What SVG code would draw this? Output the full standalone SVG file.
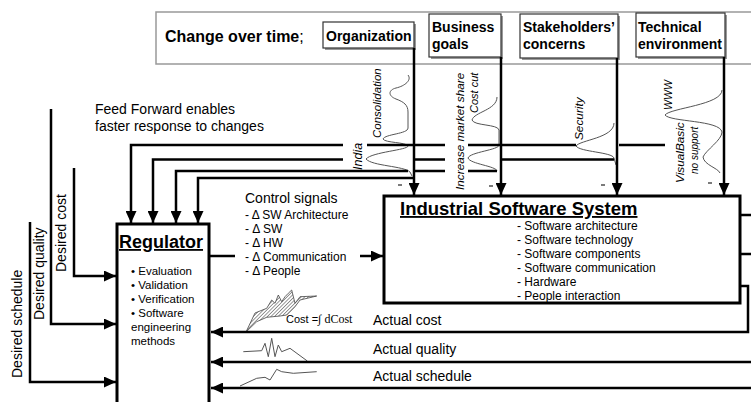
<svg xmlns="http://www.w3.org/2000/svg" width="751" height="402" viewBox="0 0 751 402">
<defs>
<style>
.t{font-family:"Liberation Sans",Arial,sans-serif;fill:#000}
.b{font-weight:bold}
.ln{stroke:#000;stroke-width:2.5;fill:none}
.box{fill:#fff;stroke:#000;stroke-width:3}
.fb{fill:#fff;stroke:#333;stroke-width:1.2}
.sh{fill:#999}
.cv{fill:none;stroke:#555;stroke-width:1;stroke-linejoin:round}
.it{font-style:italic;font-size:11.5px}
.tk{stroke:#333;stroke-width:1.3}
.sf{font-family:"Liberation Serif","Times New Roman",serif}
</style>
<marker id="ah" markerUnits="userSpaceOnUse" markerWidth="12" markerHeight="11" viewBox="0 0 12 11" refX="12" refY="5.5" orient="auto">
<path d="M0,0 L12,5.5 L0,11 Z" fill="#000"/>
</marker>
<pattern id="hatch" patternUnits="userSpaceOnUse" width="2.5" height="2.5" patternTransform="rotate(45)">
<line x1="0" y1="0" x2="0" y2="2.5" stroke="#333" stroke-width="1"/>
</pattern>
</defs>
<rect width="751" height="402" fill="#fff"/>

<!-- header band -->
<g id="header">
<rect x="156" y="12" width="610" height="52" fill="#fff" stroke="#999" stroke-width="1.5"/>
<text class="t" x="165" y="42" font-size="16"><tspan class="b">Change over time</tspan>;</text>
</g>

<g id="organization">
<rect class="sh" x="325" y="24" width="91" height="26"/>
<rect class="fb" x="323" y="22" width="91" height="26"/>
<text class="t b" x="326" y="40.5" font-size="14">Organization</text>
</g>
<g id="business-goals">
<rect class="sh" x="431" y="16" width="72" height="43"/>
<rect class="fb" x="429" y="14" width="72" height="43"/>
<text class="t b" x="432" y="32" font-size="14">Business</text>
<text class="t b" x="432" y="48.5" font-size="14">goals</text>
</g>
<g id="stakeholders">
<rect class="sh" x="522" y="16" width="98" height="44"/>
<rect class="fb" x="520" y="14" width="98" height="44"/>
<text class="t b" x="523" y="32" font-size="14">Stakeholders’</text>
<text class="t b" x="523" y="49" font-size="14">concerns</text>
</g>
<g id="technical">
<rect class="sh" x="638" y="15" width="89" height="44"/>
<rect class="fb" x="636" y="13" width="89" height="44"/>
<text class="t b" x="638" y="31.5" font-size="14">Technical</text>
<text class="t b" x="638" y="48.5" font-size="14">environment</text>
</g>

<g id="feed-forward-label">
<text class="t" x="95" y="114" font-size="14">Feed Forward enables</text>
<text class="t" x="95" y="131" font-size="14">faster response to changes</text>
</g>

<!-- change curves and labels -->
<g id="change-curves">
<path class="cv" d="M408,75 C412,80 405,86 396,88 C388,90 388,96 396,99 C404,102 408,105 408,112 L408,128 C408,134 385,134 383,139 C385,143 406,142 408,146 C408,150 372,152 366,159 C372,166 404,166 410,172 L412,176"/>
<path class="cv" d="M497,97 C497,110 474,112 472,120 C474,126 498,124 499,130 L499,145 C499,150 470,152 468,158 C470,164 496,166 497,171"/>
<path class="cv" d="M614,123 C614,138 580,140 576,146 C580,152 612,152 614,158 L616,165"/>
<path class="cv" d="M722,90 C722,105 670,108 665,115 C670,122 720,120 722,132 C722,140 706,150 703,157 C704,165 718,168 720,173"/>
<text class="t it" transform="translate(381,138) rotate(-90)" font-size="11">Consolidation</text>
<text class="t it" transform="translate(361.5,170) rotate(-90)" style="font-size:12.5px">India</text>
<text class="t it" transform="translate(464,190) rotate(-90)" style="font-size:11.8px">Increase market share</text>
<text class="t it" transform="translate(478,113) rotate(-90)" style="font-size:11px">Cost cut</text>
<text class="t it" transform="translate(583,140) rotate(-90)" style="font-size:11.8px">Security</text>
<text class="t it" transform="translate(672,110) rotate(-90)" style="font-size:10.6px">WWW</text>
<text class="t it" transform="translate(684,183) rotate(-90)" style="font-size:11.8px">VisualBasic</text>
<text class="t it" transform="translate(697.5,174) rotate(-90)" style="font-size:10px">no support</text>
<line class="tk" x1="398" y1="185" x2="402" y2="185"/>
<line class="tk" x1="489" y1="186" x2="493" y2="186"/>
<line class="tk" x1="601" y1="185" x2="605" y2="185"/>
<line class="tk" x1="708" y1="183" x2="712" y2="183"/>
</g>

<g id="regulator">
<rect class="box" x="117" y="224" width="92" height="190"/>
<text class="t b" x="119" y="248" font-size="18" text-decoration="underline">Regulator</text>
<text class="t" font-size="11.5">
<tspan x="131" y="274.5">• Evaluation</tspan>
<tspan x="131" y="288.5">• Validation</tspan>
<tspan x="131" y="302.5">• Verification</tspan>
<tspan x="131" y="316.5">• Software</tspan>
<tspan x="131" y="330.5">engineering</tspan>
<tspan x="131" y="345">methods</tspan>
</text>
</g>

<g id="industrial-software-system">
<rect class="box" x="384" y="196" width="356" height="107"/>
<text class="t b" x="400" y="215" font-size="18.5" text-decoration="underline">Industrial Software System</text>
<text class="t" font-size="12">
<tspan x="517" y="230">- Software architecture</tspan>
<tspan x="517" y="244">- Software technology</tspan>
<tspan x="517" y="258">- Software components</tspan>
<tspan x="517" y="272">- Software communication</tspan>
<tspan x="517" y="286">- Hardware</tspan>
<tspan x="517" y="300">- People interaction</tspan>
</text>
</g>

<g id="control-signals">
<text class="t" x="245" y="203" font-size="14">Control signals</text>
<text class="t" font-size="12">
<tspan x="245" y="218.5">- Δ SW Architecture</tspan>
<tspan x="245" y="232.5">- Δ SW</tspan>
<tspan x="245" y="246.5">- Δ HW</tspan>
<tspan x="245" y="260.5">- Δ Communication</tspan>
<tspan x="245" y="274.5">- Δ People</tspan>
</text>
</g>

<g id="desired-inputs">
<text class="t" transform="translate(65.5,272) rotate(-90)" font-size="14">Desired cost</text>
<text class="t" transform="translate(43.5,320) rotate(-90)" font-size="14">Desired quality</text>
<text class="t" transform="translate(21.5,378) rotate(-90)" font-size="14">Desired schedule</text>
</g>

<g id="feedback-labels">
<path d="M246,332 L255,313 L266.7,308.3 L271.7,300 L275,303.3 L278.3,295 L281.7,301.7 L285,296.7 L288.3,293.3 L291.7,290 L295,303.3 L300,296.7 L316.7,296 L300,300 L295,306.7 L286.7,315 L280,316 L266.7,317.3 L256.7,321.7 Z" fill="url(#hatch)" stroke="#444" stroke-width="0.8"/>
<text class="t" x="286" y="323" font-size="11">Cost =<tspan class="sf" font-size="12">∫ dCost</tspan></text>
<polyline class="cv" points="243.3,351.7 261.7,350.7 265,343.3 268.3,356.7 271.7,338.3 275,356.7 278.3,345 281.7,351.7 290,348.3 307.3,361"/>
<polyline class="cv" points="240,386 256.7,378.3 265,377.3 270,380 276.7,369.3 281.7,371.7 293.3,373.3 316.7,371.7"/>
<text class="t" x="373" y="325" font-size="14">Actual cost</text>
<text class="t" x="373" y="354" font-size="14">Actual quality</text>
<text class="t" x="373" y="381" font-size="14">Actual schedule</text>
</g>

<g id="connectors">
<!-- factor arrows -->
<path class="ln" d="M414,48 V195" marker-end="url(#ah)"/>
<path class="ln" d="M501,57 V195" marker-end="url(#ah)"/>
<path class="ln" d="M617,58 V195" marker-end="url(#ah)"/>
<path class="ln" d="M724,57 V195" marker-end="url(#ah)"/>
<!-- feed forward lines -->
<path class="ln" d="M343,145 H131 V223" marker-end="url(#ah)"/>
<path class="ln" d="M367,145 H445 M468,145 H576 M619,145 H665"/>
<path class="ln" d="M343,159.5 H153 V223" marker-end="url(#ah)"/>
<path class="ln" d="M413,159.5 H445 M501,159.5 H614"/>
<path class="ln" d="M408,171 H176 V223" marker-end="url(#ah)"/>
<path class="ln" d="M413,171 H445 M468,171 H497"/>
<path class="ln" d="M414,178 H198 V223" marker-end="url(#ah)"/>
<!-- desired inputs -->
<path class="ln" d="M74,168 V276 H116" marker-end="url(#ah)"/>
<path class="ln" d="M51,109 V324 H116" marker-end="url(#ah)"/>
<path class="ln" d="M30,222 V382 H116" marker-end="url(#ah)"/>
<!-- regulator to system -->
<path class="ln" d="M209,256 H235"/>
<path class="ln" d="M360,256 H383" marker-end="url(#ah)"/>
<!-- system outputs -->
<path class="ln" d="M740,215 H751 M740,254 H751"/>
<path class="ln" d="M741,286 H748 V332 H211" marker-end="url(#ah)"/>
<path class="ln" d="M751,362 H211" marker-end="url(#ah)"/>
<path class="ln" d="M751,388 H211" marker-end="url(#ah)"/>
</g>
</svg>
